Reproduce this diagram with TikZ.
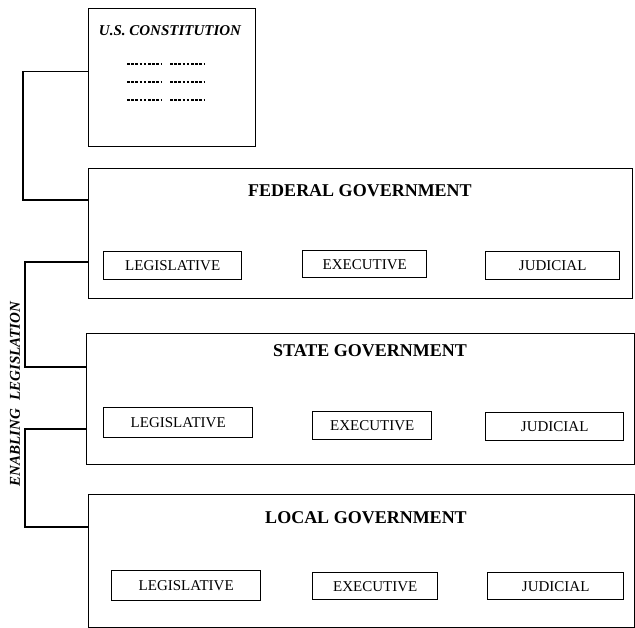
\documentclass[tikz,border=0pt]{standalone}
\usepackage{fontspec}
\setmainfont{Liberation Serif}
\usetikzlibrary{positioning}
\tikzset{
    govbox/.style = {
        rectangle,
        draw,
        line width=1.2pt,
        anchor=north west,
        inner sep=0pt
    },
    branch/.style = {
        rectangle,
        draw,
        line width=1.4pt,
        anchor=north west,
        inner sep=0pt,
        font=\fontsize{15}{15}\selectfont
    },
    title/.style = {
        anchor=base,
        font=\fontsize{18}{18}\selectfont\bfseries
    },
    link/.style = {
        draw,
        line width=1.2pt
    }
}

\begin{document}
\begin{tikzpicture}[
    x=1pt, y=-1pt,
    every node/.style={align=center},
    typed/.style={line width=1.4pt, dash pattern=on 2.6pt off 1.6pt}
]
\useasboundingbox (0,0) rectangle (635,628);

% Constitution sheet
\node [govbox, minimum width=167pt, minimum height=138pt] (const) at (88,8) {};
\node [anchor=base, font=\fontsize{15}{15}\selectfont\bfseries\itshape] (constT) at (170,36) {U.S. CONSTITUTION};
\foreach \yy in {64,82,100} {
    \draw [typed] (127,\yy) -- (162,\yy);
    \draw [typed] (170,\yy) -- (205,\yy);
}

% Federal level
\node [govbox, minimum width=544pt, minimum height=130pt] (fed) at (88,168) {};
\node [title] (fedT) at (360,197) {FEDERAL GOVERNMENT};
\node [branch, minimum width=138pt, minimum height=28pt] (fedL) at (103,251) {LEGISLATIVE};
\node [branch, minimum width=124pt, minimum height=27pt] (fedE) at (302,250) {EXECUTIVE};
\node [branch, minimum width=134pt, minimum height=28pt] (fedJ) at (485,251) {JUDICIAL};

% State level
\node [govbox, minimum width=548pt, minimum height=131pt] (state) at (86,333) {};
\node [title] (stateT) at (370,357) {STATE GOVERNMENT};
\node [branch, minimum width=149pt, minimum height=30pt] (stateL) at (103,407) {LEGISLATIVE};
\node [branch, minimum width=119pt, minimum height=28pt] (stateE) at (312,411) {EXECUTIVE};
\node [branch, minimum width=138pt, minimum height=28pt] (stateJ) at (485,412) {JUDICIAL};

% Local level
\node [govbox, minimum width=546pt, minimum height=133pt] (local) at (88,494) {};
\node [title] (localT) at (366,523) {LOCAL GOVERNMENT};
\node [branch, minimum width=149pt, minimum height=30pt] (localL) at (111,570) {LEGISLATIVE};
\node [branch, minimum width=125pt, minimum height=27pt] (localE) at (312,572) {EXECUTIVE};
\node [branch, minimum width=136pt, minimum height=27pt] (localJ) at (487,572) {JUDICIAL};

% Side label
\node [rotate=90, font=\fontsize{15}{15}\selectfont\bfseries\itshape] (enab) at (15,394) {ENABLING\hspace{0.55em}LEGISLATION};

% Connectors down the left side
\draw [link] ([yshift=6pt]const.west) -| (23,200) -- (fed.west |- 0,200);
\draw [link] (fed.west |- 0,262) -| (25,367) -- (state.west |- 0,367);
\draw [link] (state.west |- 0,429) -| (25,527) -- (local.west |- 0,527);

\end{tikzpicture}
\end{document}
